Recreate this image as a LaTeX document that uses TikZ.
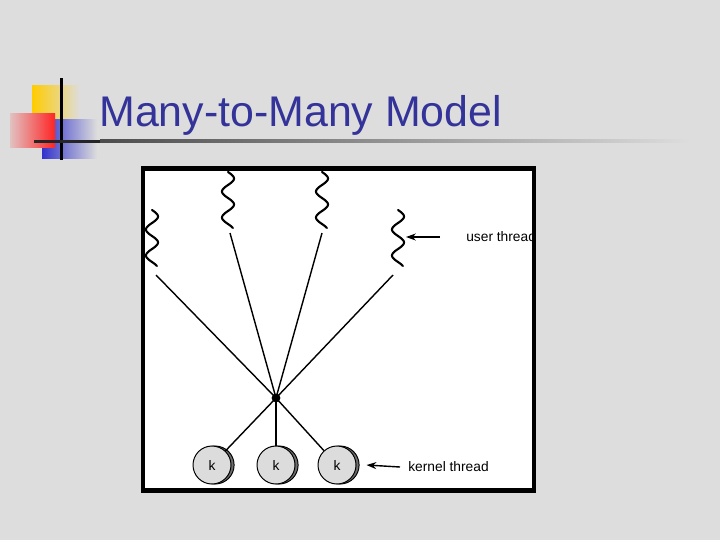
\documentclass[tikz,border=0pt]{standalone}
\usepackage{fontspec}
\setmainfont{Liberation Sans}
\definecolor{slidebg}{HTML}{DDDDDD}
\definecolor{titleblue}{HTML}{333399}
\definecolor{logoyellow}{HTML}{FFCC00}
\definecolor{logored}{HTML}{FF2424}
\definecolor{logoblue}{HTML}{3333CC}
\definecolor{diskgray}{HTML}{DCDCDC}
\definecolor{diskshade}{HTML}{6E6E6E}
\usetikzlibrary{arrows.meta,shadows}

\tikzset{
  kdisk/.style={circle, draw=black, line width=0.7pt, fill=diskgray,
    minimum size=0.95cm, inner sep=0pt, font=\fontsize{9.8}{11}\selectfont,
    general shadow={fill=diskshade, draw=black, line width=0.7pt,
      shadow xshift=2.2pt, shadow yshift=0pt}},
  wave/.style={line width=1.5pt, line cap=round},
  link/.style={line width=1pt},
  pointer/.style={-{Stealth[length=7pt,width=5pt]}, line width=1pt},
  tag/.style={anchor=west, inner sep=0pt, font=\fontsize{9.8}{11}\selectfont},
}

\begin{document}
\begin{tikzpicture}[x=0.025cm,y=-0.025cm]
    \useasboundingbox (0,0) rectangle (720,540);
    % Slide background
    \fill[slidebg] (0,0) rectangle (720,540);

    % Logo
    \shade[left color=logoyellow, middle color=logoyellow, right color=slidebg]
      (32,85) rectangle (80,119);
    \shade[left color=logoblue, middle color=logoblue!92!slidebg, right color=slidebg]
      (42,119) rectangle (97,158);
    \shade[left color=logored!15!slidebg, middle color=logored!75!slidebg, right color=logored]
      (10,113) rectangle (55,147);
    \fill[black] (60,78) rectangle (63,160);
    \fill[black!85] (34,139.5) rectangle (100,142.5);
    \shade[left color=black!70, right color=slidebg]
      (100,139.5) rectangle (690,142.5);

    \node[anchor=base west, color=titleblue, inner sep=0pt,
      font=\fontsize{30.5}{36}\selectfont] (title) at (99,126)
      {Many-to-Many Model};

    % Figure panel
    \fill[white] (143,168.5) rectangle (534,490.5);

    % User threads
    \foreach \wx/\wy in {152/210, 228/172, 322/172, 398/210}
      \draw[wave] plot[smooth, domain=0:56, samples=60]
        ({\wx+6*sin(\x*13.846)},{\wy+\x});

    \coordinate (u1) at (156,275);
    \coordinate (u2) at (230,233);
    \coordinate (u3) at (322,233);
    \coordinate (u4) at (393,275);
    \coordinate (t4) at (398,237);

    \node[circle, fill=black, inner sep=0pt, minimum size=0.22cm] (hub) at (276,398) {};

    \foreach \u in {u1,u2,u3,u4}
      \draw[link] (\u) -- (hub.center);

    % Kernel threads
    \node[kdisk] (k1) at (212,465) {k};
    \node[kdisk] (k2) at (276,465) {k};
    \node[kdisk] (k3) at (337,465) {k};

    \draw[link] (hub.center) -- (k1);
    \draw[line width=1.7pt] (hub.center) -- (k2);
    \draw[link] (hub.center) -- (k3);

    % Labels
    \node[tag] (ulabel) at (466,237) {user thread};
    \node[tag] (klabel) at (408,467) {kernel thread};

    \draw[pointer] ([xshift=-0.65cm]ulabel.west) -- ([xshift=0.2cm]t4);
    \draw[pointer] ([xshift=-0.2cm]klabel.west) -- ([xshift=0.25cm]k3.east);

    \draw[line width=3.5pt] (143,168.5) rectangle (534,490.5);
  \end{tikzpicture}
\end{document}
